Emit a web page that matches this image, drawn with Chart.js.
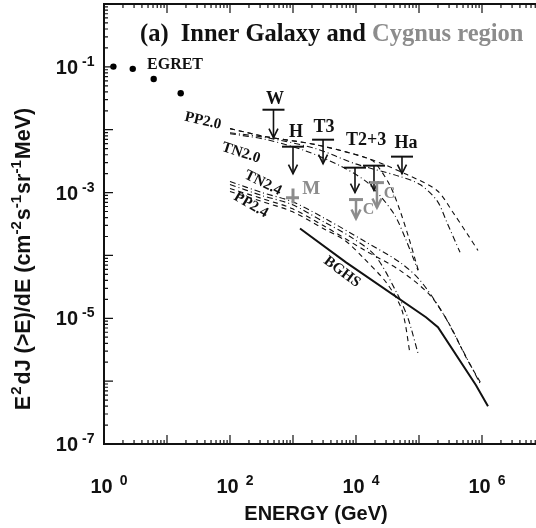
<!DOCTYPE html>
<html>
<head>
<meta charset="utf-8">
<script src="https://cdn.jsdelivr.net/npm/chart.js@4.4.1/dist/chart.umd.min.js"></script>
<style>
  html, body { margin: 0; padding: 0; background: #fff; overflow: hidden; }
  #wrap { width: 536px; height: 528px; overflow: hidden; position: relative; }
  #wrap canvas { position: absolute; left: 0; top: 0; }
</style>
</head>
<body>
<div id="wrap"><canvas id="chart" width="560" height="528"></canvas></div>
<script>
// EGRET points (GeV, flux)
const egretE = [1.41, 2.86, 6.15, 16.5];
const egretF = [0.101, 0.093, 0.064, 0.038];

// model curves, index 2.0
const pp20HighE = [100, 373, 2317, 14420, 64500, 193000, 347000, 578000, 864000];
const pp20HighF = [1.04e-2, 7.74e-3, 5.78e-3, 3.59e-3, 1.93e-3, 1.08e-3, 4.82e-4, 2.23e-4, 1.20e-4];
const tn20HighE = [100, 387, 2317, 9640, 49900, 104000, 193000, 278000, 448000];
const tn20HighF = [8.96e-3, 7.46e-3, 4.99e-3, 2.88e-3, 1.80e-3, 1.34e-3, 7.46e-4, 3.34e-4, 1.12e-4];
const pp20LowE = [100, 373, 2317, 14420, 20000, 34700, 49900, 69400, 89600, 100000];
const pp20LowF = [1.04e-2, 7.74e-3, 5.78e-3, 3.59e-3, 2.99e-3, 1.29e-3, 5.18e-4, 1.86e-4, 7.74e-5, 5.37e-5];
const tn20LowE = [100, 387, 1550, 5570, 13900, 24000, 41600, 59900, 80300, 96400];
const tn20LowF = [8.65e-3, 6.94e-3, 4.64e-3, 2.68e-3, 1.55e-3, 8.96e-4, 4.31e-4, 1.93e-4, 9.29e-5, 5.78e-5];

// model curves, index 2.4
const tn24HighE = [100, 322, 964, 3220, 13900, 49900, 104000, 240000, 431000, 964000];
const tn24HighF = [1.50e-3, 1.0e-3, 7.2e-4, 3.87e-4, 1.67e-4, 7.74e-5, 4.01e-5, 1.20e-5, 4.01e-6, 8.64e-7];
const pp24HighE = [100, 322, 964, 3220, 13900, 49900, 150000, 310000, 557000, 1000000];
const pp24HighF = [1.16e-3, 8.03e-4, 5.57e-4, 2.88e-4, 1.2e-4, 5.78e-5, 2.32e-5, 7.74e-6, 2.40e-6, 8.64e-7];
const tn24LowE = [100, 322, 964, 3220, 8030, 20000, 44800, 66900, 96400];
const tn24LowF = [1.34e-3, 8.96e-4, 6.45e-4, 3.34e-4, 2.0e-4, 1.0e-4, 2.49e-5, 1.0e-5, 2.78e-6];
const pp24LowE = [100, 322, 964, 3220, 6690, 12900, 31000, 53700, 71900];
const pp24LowF = [1.04e-3, 7.2e-4, 4.99e-4, 2.59e-4, 1.73e-4, 9.29e-5, 3.59e-5, 1.34e-5, 2.78e-6];

// BGHS
const bghsE = [1292, 6940, 129000, 200000, 803000, 1245000];
const bghsF = [2.68e-4, 7.74e-5, 1.04e-5, 7.2e-6, 8.6e-7, 4.0e-7];

// inner galaxy upper limits (bar level, arrow tip)
const ulE = [490, 1000, 3000, 9640, 19300, 53700];
const ulFlux = [0.0208, 0.00537, 0.00694, 0.00249, 0.00268, 0.00373];
const ulTip = [0.00746, 0.0020, 0.00288, 0.0010, 0.00108, 0.0020];

// Cygnus upper limits
const cygE = [10000, 21500];
const cygFlux = [7.74e-4, 1.44e-3];
const cygTip = [3.87e-4, 5.78e-4];

// Cygnus point M with error bars
const mE = [1000], mF = [8.3e-4];
const mElo = [774], mEhi = [1245];
const mFlo = [6.7e-4], mFhi = [1.16e-3];

// axis ranges and labelled decades
const xMin = 1, xMax = 1e7, yMin = 1e-7, yMax = 1;
const xLabelExp = [0, 2, 4, 6];
const yLabelExp = [-1, -3, -5, -7];

// text notes placed in log coordinates
const notes = [
  { t: 'EGRET', lx: 0.683, ly: -1.034, size: 16, align: 'left' },
  { t: 'W', lx: 2.714, ly: -1.591, size: 18 },
  { t: 'H', lx: 3.048, ly: -2.116, size: 18 },
  { t: 'T3', lx: 3.492, ly: -2.036, size: 18 },
  { t: 'T2+3', lx: 4.159, ly: -2.243, size: 18 },
  { t: 'Ha', lx: 4.794, ly: -2.291, size: 18 },
  { t: 'M', lx: 3.290, ly: -3.030, size: 19, color: '#8c8c8c' },
  { t: 'C', lx: 4.200, ly: -3.341, size: 16, color: '#8c8c8c' },
  { t: 'C', lx: 4.534, ly: -3.086, size: 16, color: '#8c8c8c' },
  { t: 'PP2.0', lx: 1.571, ly: -1.861, size: 15, rot: 13 },
  { t: 'TN2.0', lx: 2.175, ly: -2.370, size: 15, rot: 18 },
  { t: 'TN2.4', lx: 2.524, ly: -2.848, size: 15, rot: 26 },
  { t: 'PP2.4', lx: 2.333, ly: -3.198, size: 15, rot: 30 },
  { t: 'BGHS', lx: 3.778, ly: -4.263, size: 15, rot: 37 }
];

const DASH = [5, 4];
const DASHDOT = [6, 3, 1, 3];

function curve(E, F, dash, width, tension) {
  return {
    data: E.map((e, i) => ({ x: e, y: F[i] })),
    showLine: true,
    borderColor: '#111',
    borderWidth: width,
    borderDash: dash,
    pointRadius: 0,
    tension: tension,
    fill: false
  };
}

// draw text made of normal and superscript pieces
function supText(ctx, parts, x, y, align, size, supSize) {
  const bigFont = 'bold ' + size + 'px "Liberation Sans", Arial, sans-serif';
  const supFont = 'bold ' + supSize + 'px "Liberation Sans", Arial, sans-serif';
  let w = 0;
  parts.forEach(p => { ctx.font = p[1] ? supFont : bigFont; w += ctx.measureText(p[0]).width + (p[2] || 0); });
  let cx = align === 'center' ? x - w / 2 : (align === 'right' ? x - w : x);
  ctx.textAlign = 'left';
  ctx.textBaseline = 'alphabetic';
  parts.forEach(p => {
    ctx.font = p[1] ? supFont : bigFont;
    ctx.fillText(p[0], cx, p[1] ? y - size * 0.42 : y);
    cx += ctx.measureText(p[0]).width + (p[2] || 0);
  });
}

const decor = {
  id: 'decor',
  afterDatasetsDraw(chart) {
    const ctx = chart.ctx;
    const X = v => chart.scales.x.getPixelForValue(v);
    const Y = v => chart.scales.y.getPixelForValue(v);
    ctx.save();
    ctx.setLineDash([]);
    ctx.lineCap = 'butt';

    function limit(e, f, tip, half, color, barW, arrowW) {
      const x = X(e), y = Y(f), yt = Y(tip);
      ctx.strokeStyle = color;
      ctx.lineWidth = barW;
      ctx.beginPath(); ctx.moveTo(x - half, y); ctx.lineTo(x + half, y); ctx.stroke();
      ctx.lineWidth = arrowW;
      ctx.beginPath(); ctx.moveTo(x, y); ctx.lineTo(x, yt); ctx.stroke();
      ctx.beginPath();
      ctx.moveTo(x - 4.5, yt - 9); ctx.lineTo(x, yt); ctx.lineTo(x + 4.5, yt - 9);
      ctx.stroke();
    }
    ulE.forEach((e, i) => limit(e, ulFlux[i], ulTip[i], 11, '#111', 2, 1.6));
    cygE.forEach((e, i) => limit(e, cygFlux[i], cygTip[i], 7, '#8c8c8c', 3, 2.5));

    // M point
    ctx.strokeStyle = '#8c8c8c';
    ctx.lineWidth = 3;
    mE.forEach((e, i) => {
      ctx.beginPath();
      ctx.moveTo(X(e), Y(mFlo[i])); ctx.lineTo(X(e), Y(mFhi[i]));
      ctx.moveTo(X(mElo[i]), Y(mF[i])); ctx.lineTo(X(mEhi[i]), Y(mF[i]));
      ctx.stroke();
    });

    // notes
    notes.forEach(n => {
      const x = X(Math.pow(10, n.lx)), y = Y(Math.pow(10, n.ly));
      ctx.fillStyle = n.color || '#111';
      ctx.font = 'bold ' + n.size + 'px "Liberation Serif", "Times New Roman", serif';
      ctx.save();
      ctx.translate(x, y);
      if (n.rot) {
        ctx.rotate(n.rot * Math.PI / 180);
        ctx.textAlign = 'center';
        ctx.textBaseline = 'middle';
      } else {
        ctx.textAlign = n.align || 'center';
        ctx.textBaseline = 'alphabetic';
      }
      ctx.fillText(n.t, 0, 0);
      ctx.restore();
    });
    ctx.restore();
  },
  afterDraw(chart) {
    const ctx = chart.ctx;
    const a = chart.chartArea;
    const X = v => chart.scales.x.getPixelForValue(v);
    const Y = v => chart.scales.y.getPixelForValue(v);
    ctx.save();
    ctx.setLineDash([]);
    ctx.strokeStyle = '#111';

    // frame
    ctx.lineWidth = 2;
    ctx.strokeRect(a.left, a.top, a.right - a.left, a.bottom - a.top);

    // inward ticks
    ctx.lineWidth = 1.2;
    ctx.beginPath();
    for (let d = 0; d <= 7; d++) {
      for (let m = 1; m <= 9; m++) {
        if (d === 7 && m > 1) break;
        const x = X(m * Math.pow(10, d));
        const len = m === 1 ? 9 : 4;
        ctx.moveTo(x, a.bottom); ctx.lineTo(x, a.bottom - len);
        ctx.moveTo(x, a.top); ctx.lineTo(x, a.top + len);
      }
    }
    for (let d = -7; d <= 0; d++) {
      for (let m = 1; m <= 9; m++) {
        if (d === 0 && m > 1) break;
        const y = Y(m * Math.pow(10, d));
        const len = m === 1 ? 9 : 4;
        ctx.moveTo(a.left, y); ctx.lineTo(a.left + len, y);
        ctx.moveTo(a.right, y); ctx.lineTo(a.right - len, y);
      }
    }
    ctx.stroke();

    // tick labels
    ctx.fillStyle = '#111';
    xLabelExp.forEach(e => {
      const x = X(Math.pow(10, e));
      supText(ctx, [['10', false, 7], [String(e), true]], x + 5, a.bottom + 49, 'center', 20, 14);
    });
    yLabelExp.forEach(e => {
      const y = Y(Math.pow(10, e));
      ctx.font = 'bold 20px "Liberation Sans", Arial, sans-serif';
      ctx.textAlign = 'right';
      ctx.textBaseline = 'alphabetic';
      ctx.fillText('10', 78, y + 7);
      ctx.font = 'bold 14px "Liberation Sans", Arial, sans-serif';
      ctx.textAlign = 'left';
      ctx.fillText(String(e), 82, y - 1);
    });

    // axis titles
    ctx.font = 'bold 20px "Liberation Sans", Arial, sans-serif';
    ctx.textAlign = 'center';
    ctx.fillText('ENERGY (GeV)', 316, 520);

    ctx.save();
    ctx.translate(30, 259);
    ctx.rotate(-Math.PI / 2);
    supText(ctx, [['E', false, 1], ['2', true, 2], ['dJ (>E)/dE (cm', false], ['-2', true, 1], ['s', false],
      ['-1', true, 1], ['sr', false], ['-1', true, 1], ['MeV)', false]], 0, 0, 'center', 21.5, 15);
    ctx.restore();

    // panel title
    ctx.font = 'bold 24.5px "Liberation Serif", "Times New Roman", serif';
    ctx.textAlign = 'left';
    ctx.fillStyle = '#111';
    const t1 = '(a)  Inner Galaxy and ';
    ctx.fillText(t1, 140, 41);
    ctx.fillStyle = '#8c8c8c';
    ctx.fillText('Cygnus region', 140 + ctx.measureText(t1).width, 41);
    ctx.restore();
  }
};

new Chart(document.getElementById('chart'), {
  type: 'scatter',
  data: {
    datasets: [
      {
        data: egretE.map((e, i) => ({ x: e, y: egretF[i] })),
        pointRadius: 3.2,
        backgroundColor: '#000',
        borderWidth: 0,
        showLine: false
      },
      curve(pp20HighE, pp20HighF, DASH, 1.1, 0.3),
      curve(tn20HighE, tn20HighF, DASHDOT, 1.1, 0.3),
      curve(pp20LowE, pp20LowF, DASH, 1.1, 0.3),
      curve(tn20LowE, tn20LowF, DASHDOT, 1.1, 0.3),
      curve(tn24HighE, tn24HighF, DASHDOT, 1.1, 0.3),
      curve(pp24HighE, pp24HighF, DASH, 1.1, 0.3),
      curve(tn24LowE, tn24LowF, DASHDOT, 1.1, 0.3),
      curve(pp24LowE, pp24LowF, DASH, 1.1, 0.3),
      curve(bghsE, bghsF, [], 2, 0)
    ]
  },
  options: {
    responsive: false,
    animation: false,
    layout: { padding: { left: 104, top: 4, right: 15, bottom: 84 } },
    plugins: { legend: { display: false }, tooltip: { enabled: false } },
    scales: {
      x: { type: 'logarithmic', min: xMin, max: xMax, display: false },
      y: { type: 'logarithmic', min: yMin, max: yMax, display: false }
    }
  },
  plugins: [decor]
});
</script>
</body>
</html>
